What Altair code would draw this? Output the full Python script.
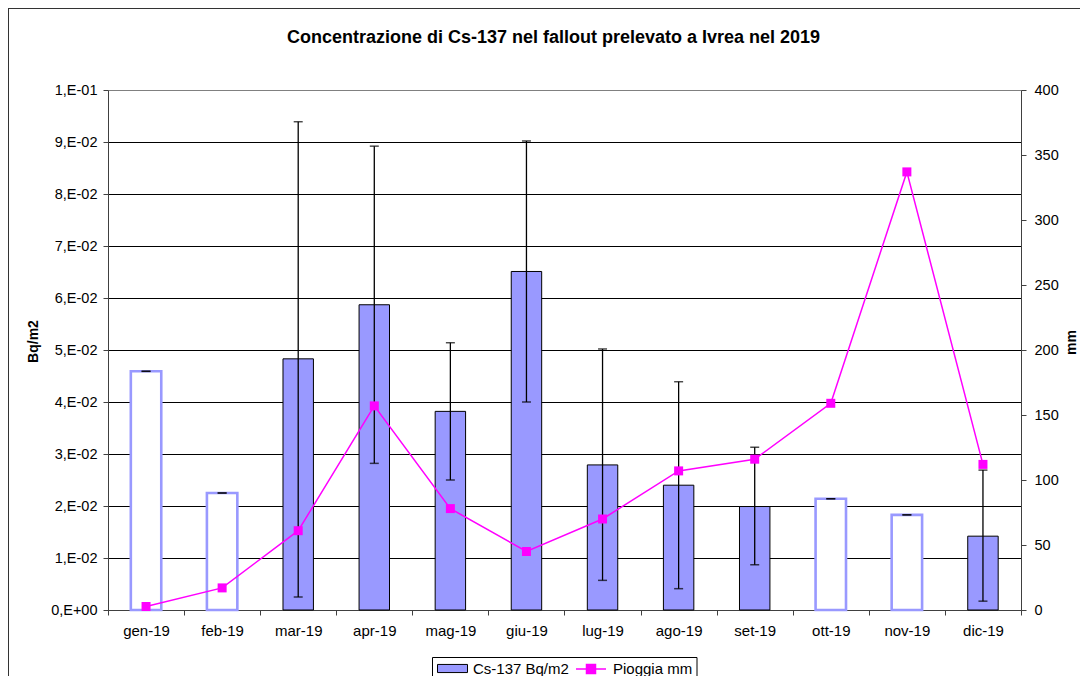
import json
import altair as alt
import pandas as pd

# ---- data ----
mesi = ["gen-19", "feb-19", "mar-19", "apr-19", "mag-19", "giu-19",
        "lug-19", "ago-19", "set-19", "ott-19", "nov-19", "dic-19"]
cs137 = [0.0459, 0.0225, 0.0483, 0.0587, 0.0382, 0.0651,
         0.0279, 0.0240, 0.0199, 0.0214, 0.0183, 0.0142]
err_min = [0.0459, 0.0225, 0.0025, 0.0282, 0.0250, 0.0400,
           0.0057, 0.0041, 0.0087, 0.0214, 0.0183, 0.0017]
err_max = [0.0459, 0.0225, 0.0939, 0.0892, 0.0514, 0.0902,
           0.0502, 0.0439, 0.0313, 0.0214, 0.0183, 0.0269]
rilevato = [False, False, True, True, True, True,
            True, True, True, False, False, True]
pioggia = [2.7, 17, 61, 157, 78, 45, 70, 107, 116, 159, 337, 112]

y_sx_ticks = [0.0, 0.01, 0.02, 0.03, 0.04, 0.05, 0.06, 0.07, 0.08, 0.09, 0.1]
y_sx_labels = ["0,E+00", "1,E-02", "2,E-02", "3,E-02", "4,E-02", "5,E-02",
               "6,E-02", "7,E-02", "8,E-02", "9,E-02", "1,E-01"]
y_dx_ticks = [0, 50, 100, 150, 200, 250, 300, 350, 400]

titolo = "Concentrazione di Cs-137 nel fallout prelevato a Ivrea nel 2019"
serie_cs = "Cs-137 Bq/m2"
serie_p = "Pioggia mm"

df = pd.DataFrame({"mese": mesi, "cs137": cs137, "err_min": err_min,
                   "err_max": err_max, "rilevato": rilevato, "pioggia": pioggia})
df["serie_cs"] = serie_cs
df["serie_p"] = serie_p

W, H = 913, 520
FONT = "Liberation Sans"
AX = "#404040"

x_enc = alt.X("mese:N", sort=mesi,
              scale=alt.Scale(paddingInner=0, paddingOuter=0),
              axis=alt.Axis(title=None, labelAngle=0, tickBand="extent",
                            labelFont=FONT, labelFontSize=15, labelColor="black",
                            domainColor=AX, tickColor=AX, tickSize=5,
                            labelPadding=8, grid=False))

label_expr = json.dumps(y_sx_labels) + "[round(datum.value*100)]"
y_sx_scale = alt.Scale(domain=[0, 0.1], nice=False, zero=True)
y_sx_axis = alt.Axis(orient="left", values=y_sx_ticks, labelExpr=label_expr,
                     grid=True,
                     gridColor=alt.condition("datum.value >= 0.0999",
                                             alt.value("#808080"),
                                             alt.value("black")),
                     gridWidth=1,
                     labelFont=FONT, labelFontSize=14.5, labelColor="black",
                     labelPadding=6, tickSize=5, tickColor=AX, domainColor=AX,
                     title="Bq/m2", titleFont=FONT, titleFontSize=14,
                     titleFontWeight="bold", titleColor="black", titleAngle=270,
                     titleX=-75, titleY=251, titleAlign="center",
                     titleBaseline="middle")
y_dx_scale = alt.Scale(domain=[0, 400], nice=False, zero=True)
y_dx_axis = alt.Axis(orient="right", values=y_dx_ticks, grid=False,
                     labelFont=FONT, labelFontSize=14.5, labelColor="black",
                     labelPadding=8, tickSize=5, tickColor=AX, domainColor=AX,
                     title="mm", titleFont=FONT, titleFontSize=14,
                     titleFontWeight="bold", titleColor="black", titleAngle=270,
                     titleX=50, titleY=252, titleAlign="center",
                     titleBaseline="middle")

bars = alt.Chart().mark_bar(width=alt.RelativeBandSize(0.4)).encode(
    x=x_enc,
    y=alt.Y("cs137:Q", scale=y_sx_scale, axis=y_sx_axis),
    fill=alt.condition(
        "datum.rilevato",
        alt.Fill("serie_cs:N", scale=alt.Scale(domain=[serie_cs], range=["#9999FF"]),
                 legend=alt.Legend(orient="none", legendX=329, legendY=563,
                                   title=None, symbolType="M-1,-0.27H1V0.27H-1Z",
                                   symbolSize=900, symbolStrokeColor="black",
                                   symbolStrokeWidth=1, labelFont=FONT,
                                   labelFontSize=15, labelColor="black",
                                   labelOffset=5, padding=0)),
        alt.value("white")),
    stroke=alt.condition("datum.rilevato", alt.value("black"), alt.value("#9999FF")),
    strokeWidth=alt.condition("datum.rilevato", alt.value(1), alt.value(2.6)),
)

err_rule = alt.Chart().mark_rule(color="black", strokeWidth=1.3).encode(
    x=x_enc,
    y=alt.Y("err_min:Q", scale=y_sx_scale, axis=y_sx_axis),
    y2="err_max:Q",
)
cap_lo = alt.Chart().mark_tick(color="black", thickness=1.5, size=9,
                               orient="horizontal").encode(
    x=x_enc, y=alt.Y("err_min:Q", scale=y_sx_scale, axis=y_sx_axis))
cap_hi = alt.Chart().mark_tick(color="black", thickness=1.5, size=9,
                               orient="horizontal").encode(
    x=x_enc, y=alt.Y("err_max:Q", scale=y_sx_scale, axis=y_sx_axis))

line = alt.Chart().mark_line(strokeWidth=1.5).encode(
    x=x_enc,
    y=alt.Y("pioggia:Q", scale=y_dx_scale, axis=y_dx_axis),
    stroke=alt.Stroke("serie_p:N",
                      scale=alt.Scale(domain=[serie_p], range=["#FF00FF"]),
                      legend=alt.Legend(orient="none", legendX=467, legendY=563,
                                        title=None,
                                        symbolType="M-1,0H1M-0.3,-0.3H0.3V0.3H-0.3Z",
                                        symbolSize=900, symbolStrokeWidth=1.5,
                                        symbolFillColor="#FF00FF",
                                        labelFont=FONT, labelFontSize=15,
                                        labelColor="black", labelOffset=6,
                                        padding=0)),
)
pts = alt.Chart().mark_square(size=81, color="#FF00FF", filled=True,
                              opacity=1).encode(
    x=x_enc, y=alt.Y("pioggia:Q", scale=y_dx_scale, axis=y_dx_axis))

left = alt.layer(bars, err_rule, cap_lo, cap_hi)
right = alt.layer(line, pts)

one = alt.Data(values=[{"k": 1}])
legend_box = alt.Chart(one).mark_rect(fill="white", stroke="black",
                                      strokeWidth=1).encode(
    x=alt.value(324.5), x2=alt.value(589), y=alt.value(567.5), y2=alt.value(620))
outer_box = alt.Chart(one).mark_rect(fill=None, stroke="#333333",
                                     strokeWidth=2).encode(
    x=alt.value(-100), x2=alt.value(W + 120), y=alt.value(-82), y2=alt.value(H + 120))

chart = alt.layer(outer_box, legend_box, left, right, data=df).resolve_scale(
    y="independent"
).properties(
    width=W, height=H,
    title=alt.TitleParams(titolo, font=FONT, fontSize=18, fontWeight="bold",
                          color="black", anchor="middle", frame="group", dx=-11,
                          baseline="alphabetic", offset=-54),
    autosize=alt.AutoSizeParams(type="none"),
    padding={"left": 100, "top": 82, "right": 59, "bottom": 66},
).configure_view(stroke=None).configure(background="white")

chart.save("out.html", embed_options={"renderer": "svg", "actions": False})
